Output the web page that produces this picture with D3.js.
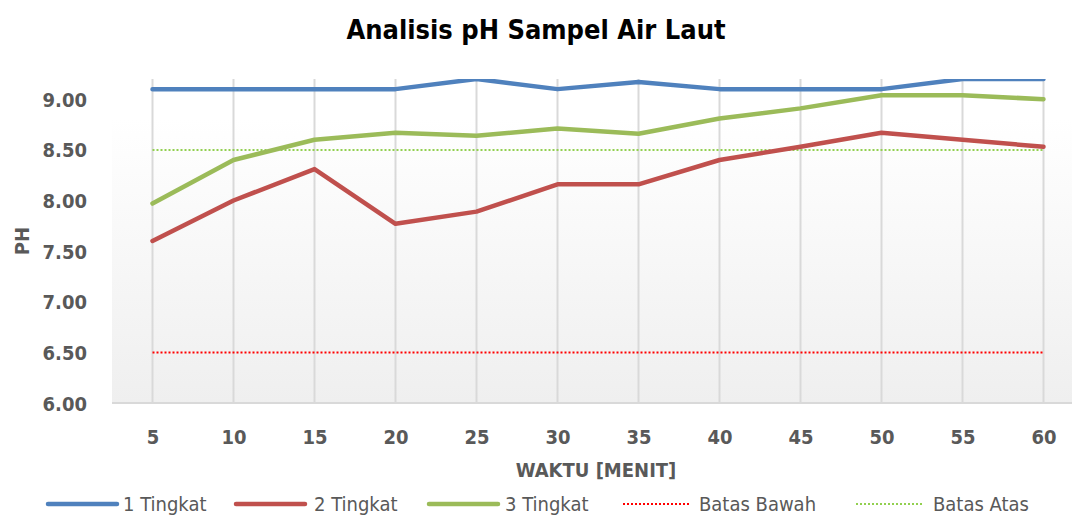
<!DOCTYPE html>
<html>
<head>
<meta charset="utf-8">
<script src="https://cdn.jsdelivr.net/npm/d3@7"></script>
<style>
  html, body { margin: 0; padding: 0; background: #fff; }
  svg { display: block; font-family: "DejaVu Sans Condensed", "DejaVu Sans", sans-serif; }
</style>
</head>
<body>
<svg id="chart" width="1072" height="516"></svg>
<script>
// ---- data ----
const categories = ["5","10","15","20","25","30","35","40","45","50","55","60"];
const tingkat1 = [9.10, 9.10, 9.10, 9.10, 9.20, 9.10, 9.17, 9.10, 9.10, 9.10, 9.20, 9.20];
const tingkat2 = [7.60, 8.00, 8.31, 7.77, 7.89, 8.16, 8.16, 8.40, 8.53, 8.67, 8.60, 8.53];
const tingkat3 = [7.97, 8.40, 8.60, 8.67, 8.64, 8.71, 8.66, 8.81, 8.91, 9.04, 9.04, 9.00];
const batasBawah = [6.5, 6.5, 6.5, 6.5, 6.5, 6.5, 6.5, 6.5, 6.5, 6.5, 6.5, 6.5];
const batasAtas = [8.5, 8.5, 8.5, 8.5, 8.5, 8.5, 8.5, 8.5, 8.5, 8.5, 8.5, 8.5];
const yTicks = [6.0, 6.5, 7.0, 7.5, 8.0, 8.5, 9.0];
const yDomain = [6.0, 9.2];
const titleText = "Analisis pH Sampel Air Laut";
const xTitle = "WAKTU [MENIT]";
const yTitle = "PH";

const series = [
  { name: "1 Tingkat", values: tingkat1, color: "#4f81bd", width: 4.5, dash: null },
  { name: "2 Tingkat", values: tingkat2, color: "#c0504d", width: 4.5, dash: null },
  { name: "3 Tingkat", values: tingkat3, color: "#9bbb59", width: 4.5, dash: null },
  { name: "Batas Bawah", values: batasBawah, color: "#ff0000", width: 2, dash: "2,2" },
  { name: "Batas Atas", values: batasAtas, color: "#92d050", width: 2, dash: "2,2" }
];

// ---- layout ----
const svg = d3.select("#chart");
const plot = { left: 112, right: 1084, top: 79, bottom: 403 };

const x = d3.scalePoint().domain(categories).range([plot.left, plot.right]).padding(0.5);
const y = d3.scaleLinear().domain(yDomain).range([plot.bottom, plot.top]);

const defs = svg.append("defs");
const grad = defs.append("linearGradient").attr("id", "bg").attr("x1", 0).attr("y1", 0).attr("x2", 0).attr("y2", 1);
grad.append("stop").attr("offset", "0%").attr("stop-color", "#ffffff");
grad.append("stop").attr("offset", "12%").attr("stop-color", "#ffffff");
grad.append("stop").attr("offset", "100%").attr("stop-color", "#efefef");
defs.append("clipPath").attr("id", "clip").append("rect")
  .attr("x", plot.left).attr("y", plot.top)
  .attr("width", plot.right - plot.left).attr("height", plot.bottom - plot.top);

svg.append("rect").attr("x", plot.left).attr("y", plot.top)
  .attr("width", plot.right - plot.left).attr("height", plot.bottom - plot.top)
  .attr("fill", "url(#bg)");

// vertical gridlines
svg.append("g").selectAll("line").data(categories).join("line")
  .attr("x1", d => x(d)).attr("x2", d => x(d))
  .attr("y1", plot.top).attr("y2", plot.bottom)
  .attr("stroke", "#d9d9d9").attr("stroke-width", 2);

// bottom axis line
svg.append("line").attr("x1", plot.left).attr("x2", plot.right)
  .attr("y1", plot.bottom).attr("y2", plot.bottom)
  .attr("stroke", "#d9d9d9").attr("stroke-width", 2);

// x axis labels
const xAxis = d3.axisBottom(x).tickSize(0).tickPadding(0);
const gx = svg.append("g").attr("transform", `translate(0,${plot.bottom})`).call(xAxis);
gx.select(".domain").remove();
gx.selectAll("text").attr("y", 34).attr("dy", "0.35em")
  .attr("font-size", 20).attr("font-weight", "bold").attr("fill", "#595959")
  .attr("font-family", "'DejaVu Sans Condensed', sans-serif");

// y axis labels
const yAxis = d3.axisLeft(y).tickValues(yTicks).tickFormat(d3.format(".2f")).tickSize(0).tickPadding(0);
const gy = svg.append("g").attr("transform", `translate(87,0)`).call(yAxis);
gy.select(".domain").remove();
gy.selectAll("text").attr("x", 0).attr("dy", "0.35em")
  .attr("font-size", 20).attr("font-weight", "bold").attr("fill", "#595959")
  .attr("font-family", "'DejaVu Sans Condensed', sans-serif");

// series lines
const line = d3.line().x((d, i) => x(categories[i])).y(d => y(d));
const gLines = svg.append("g").attr("clip-path", "url(#clip)");
[3, 4, 1, 2, 0].forEach(k => {
  const s = series[k];
  gLines.append("path").datum(s.values)
    .attr("d", line).attr("fill", "none")
    .attr("stroke", s.color).attr("stroke-width", s.width)
    .attr("stroke-linejoin", "round").attr("stroke-linecap", s.dash ? "butt" : "round")
    .attr("stroke-dasharray", s.dash);
});

// title
svg.append("text").attr("x", 536).attr("y", 30).attr("dy", "0.35em")
  .attr("text-anchor", "middle").attr("font-size", 27).attr("font-weight", "bold")
  .attr("fill", "#000").text(titleText);

// axis titles
svg.append("text").attr("x", 596).attr("y", 470).attr("dy", "0.35em")
  .attr("text-anchor", "middle").attr("font-size", 20).attr("font-weight", "bold")
  .attr("fill", "#595959").text(xTitle);
svg.append("text").attr("transform", "translate(22,241) rotate(-90)").attr("dy", "0.35em")
  .attr("text-anchor", "middle").attr("font-size", 20).attr("font-weight", "bold")
  .attr("fill", "#595959").text(yTitle);

// legend
const legendX = [48, 236, 429, 623, 856];
const legendY = 504;
const lg = svg.append("g").selectAll("g").data(series).join("g")
  .attr("transform", (d, i) => `translate(${legendX[i]},${legendY})`);
lg.append("line").attr("x1", 0).attr("x2", d => d.dash ? 66 : 69).attr("y1", 0).attr("y2", 0)
  .attr("stroke", d => d.color).attr("stroke-width", d => d.dash ? 2 : 4.5)
  .attr("stroke-linecap", d => d.dash ? "butt" : "round")
  .attr("stroke-dasharray", d => d.dash);
lg.append("text").attr("x", (d, i) => [75, 78, 76, 76, 77][i]).attr("dy", "0.35em")
  .attr("font-size", 20).attr("fill", "#595959").text(d => d.name);
</script>
</body>
</html>
